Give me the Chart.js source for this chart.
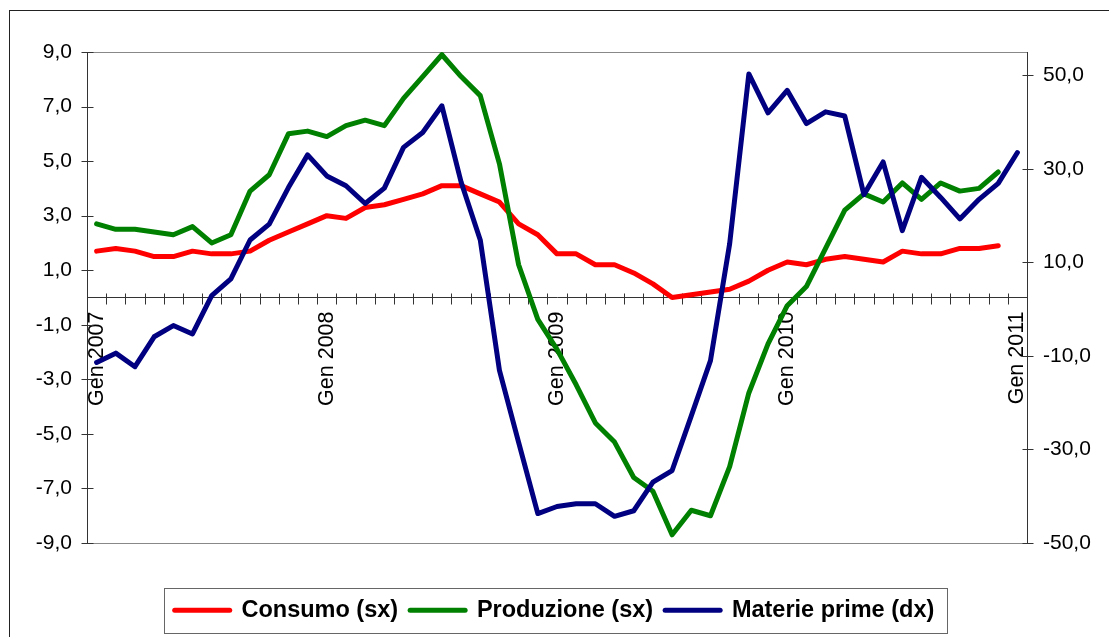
<!DOCTYPE html>
<html>
<head>
<meta charset="utf-8">
<script src="https://cdn.jsdelivr.net/npm/chart.js@4.4.0/dist/chart.umd.min.js"></script>
<style>
  html, body { margin: 0; padding: 0; background: #fff; overflow: hidden; }
  #wrap { position: relative; width: 1109px; height: 637px; }
  #frame { position: absolute; left: 9px; top: 10px; width: 1200px; height: 700px;
           border-left: 1px solid #222; border-top: 1px solid #222; }
  #chart { position: absolute; left: 0; top: 0; }
</style>
</head>
<body>
<div id="wrap">
  <div id="frame"></div>
  <canvas id="chart" width="1109" height="637"></canvas>
</div>
<script>
// months Gen 2007 .. Gen 2011
const MESI = ['Gen', 'Feb', 'Mar', 'Apr', 'Mag', 'Giu', 'Lug', 'Ago', 'Set', 'Ott', 'Nov', 'Dic'];
const categories = [];
for (let anno = 2007; anno <= 2011; anno++) {
  MESI.forEach(m => { if (categories.length < 49) categories.push(m + ' ' + anno); });
}

// left axis (sx)
const consumo = [1.7, 1.8, 1.7, 1.5, 1.5, 1.7, 1.6, 1.6, 1.7, 2.1, 2.4, 2.7,
                 3.0, 2.9, 3.3, 3.4, 3.6, 3.8, 4.1, 4.1, 3.8, 3.5, 2.7, 2.3,
                 1.6, 1.6, 1.2, 1.2, 0.9, 0.5, 0.0, 0.1, 0.2, 0.3, 0.6, 1.0,
                 1.3, 1.2, 1.4, 1.5, 1.4, 1.3, 1.7, 1.6, 1.6, 1.8, 1.8, 1.9, null];
const produzione = [2.7, 2.5, 2.5, 2.4, 2.3, 2.6, 2.0, 2.3, 3.9, 4.5, 6.0, 6.1,
                    5.9, 6.3, 6.5, 6.3, 7.3, 8.1, 8.9, 8.1, 7.4, 4.9, 1.2, -0.8,
                    -1.9, -3.2, -4.6, -5.3, -6.6, -7.1, -8.7, -7.8, -8.0, -6.2, -3.5, -1.7,
                    -0.3, 0.4, 1.8, 3.2, 3.8, 3.5, 4.2, 3.6, 4.2, 3.9, 4.0, 4.6, null];
// right axis (dx)
const materiePrime = [-11.4, -9.4, -12.3, -5.9, -3.5, -5.3, 2.9, 6.5, 14.8, 18.2, 26.0, 33.0,
                      28.5, 26.4, 22.6, 25.9, 34.6, 37.8, 43.5, 27.2, 14.8, -13.1, -28.5, -43.7,
                      -42.2, -41.6, -41.6, -44.3, -43.1, -37.0, -34.5, -22.8, -11.0, 14.0, 50.3, 42.0,
                      46.8, 39.7, 42.2, 41.3, 24.5, 31.5, 16.8, 28.2, 23.9, 19.3, 23.5, 26.9, 33.5];

const rightTicks = [-50, -30, -10, 10, 30, 50];

const FONT = "'Liberation Sans', Arial, sans-serif";
const AXIS_COLOR = '#333';
const fmt = v => Number(v).toFixed(1).replace('.', ',');

// excel style cross tick marks + grey plot area frame
const crossTicks = {
  id: 'crossTicks',
  beforeDatasetsDraw(chart) {
    const {ctx, chartArea: a, scales: {x, y, y1}} = chart;
    ctx.save();
    ctx.lineWidth = 1;
    ctx.strokeStyle = '#888';
    ctx.beginPath();
    ctx.moveTo(a.left, Math.round(a.top) + 0.5);
    ctx.lineTo(a.right, Math.round(a.top) + 0.5);
    ctx.moveTo(a.left, Math.round(a.bottom) + 0.5);
    ctx.lineTo(a.right, Math.round(a.bottom) + 0.5);
    ctx.stroke();

    ctx.strokeStyle = AXIS_COLOR;
    ctx.beginPath();
    const y0 = Math.round(y.getPixelForValue(0)) + 0.5;
    for (let k = 0; k <= categories.length; k++) {
      const px = Math.round(x.getPixelForValue(k - 0.5)) + 0.5;
      ctx.moveTo(px, y0 - 5);
      ctx.lineTo(px, y0 + 6);
    }
    const lx = Math.round(a.left) + 0.5;
    y.ticks.forEach(t => {
      const py = Math.round(y.getPixelForValue(t.value)) + 0.5;
      ctx.moveTo(lx - 6, py);
      ctx.lineTo(lx + 6, py);
    });
    const rx = Math.round(a.right) + 0.5;
    y1.ticks.forEach(t => {
      const py = Math.round(y1.getPixelForValue(t.value)) + 0.5;
      ctx.moveTo(rx - 5, py);
      ctx.lineTo(rx + 6, py);
    });
    ctx.stroke();
    ctx.restore();
  }
};

// box round the legend
const legendFrame = {
  id: 'legendFrame',
  afterDraw(chart) {
    const boxes = chart.legend && chart.legend.legendHitBoxes;
    if (!boxes || !boxes.length) return;
    const {ctx} = chart;
    const left = Math.min(...boxes.map(b => b.left)) - 10.5;
    const right = Math.max(...boxes.map(b => b.left + b.width)) + 13;
    const mid = boxes[0].top + boxes[0].height / 2;
    ctx.save();
    ctx.strokeStyle = '#666';
    ctx.lineWidth = 1;
    ctx.strokeRect(Math.round(left) + 0.5, Math.round(mid - 22.5) + 0.5, Math.round(right - left), 45);
    ctx.restore();
  }
};

const data = {
  labels: categories,
  datasets: [
    {
      label: 'Consumo (sx)',
      data: consumo,
      yAxisID: 'y',
      borderColor: '#FF0000',
      backgroundColor: '#FF0000',
      order: 3
    },
    {
      label: 'Produzione (sx)',
      data: produzione,
      yAxisID: 'y',
      borderColor: '#008000',
      backgroundColor: '#008000',
      order: 2
    },
    {
      label: 'Materie prime (dx)',
      data: materiePrime,
      yAxisID: 'y1',
      borderColor: '#000080',
      backgroundColor: '#000080',
      order: 1
    }
  ]
};

const config = {
  type: 'line',
  data: data,
  options: {
    responsive: false,
    animation: false,
    layout: { padding: { top: 52, right: 0, bottom: 5, left: 0 } },
    elements: {
      line: { borderWidth: 5, tension: 0, borderJoinStyle: 'round', borderCapStyle: 'round' },
      point: { radius: 0, hoverRadius: 0 }
    },
    plugins: {
      tooltip: { enabled: false },
      legend: {
        position: 'bottom',
        title: { display: true, text: ' ', font: { size: 10 }, padding: { top: 31.5, bottom: 0 } },
        labels: {
          usePointStyle: true,
          pointStyle: 'line',
          pointStyleWidth: 55,
          padding: 12,
          color: '#000',
          font: { family: FONT, size: 23.5, weight: 'bold' },
          sort: (a, b) => a.datasetIndex - b.datasetIndex,
          generateLabels(chart) {
            const items = Chart.defaults.plugins.legend.labels.generateLabels(chart);
            items.forEach(item => {
              item.lineWidth = 5;
              item.lineCap = 'round';
            });
            return items;
          }
        }
      }
    },
    scales: {
      x: {
        position: { y: 0 },
        offset: true,
        grid: { display: false, drawTicks: false },
        border: { display: true, color: AXIS_COLOR, width: 1 },
        ticks: {
          autoSkip: false,
          minRotation: 90,
          maxRotation: 90,
          padding: 14,
          color: '#000',
          font: { family: FONT, size: 21.5 },
          callback: function(value) {
            const label = this.getLabelForValue(value);
            return label.startsWith('Gen') ? label : '';
          }
        }
      },
      y: {
        position: 'left',
        min: -9,
        max: 9,
        grid: { display: false, drawTicks: false },
        border: { display: true, color: AXIS_COLOR, width: 1 },
        ticks: {
          stepSize: 2,
          padding: 15,
          color: '#000',
          font: { family: FONT, size: 21 },
          callback: v => fmt(v)
        },
        afterFit(scale) { scale.width = 87; }
      },
      y1: {
        position: 'right',
        min: -50,
        max: 55,
        grid: { display: false, drawTicks: false },
        border: { display: true, color: AXIS_COLOR, width: 1 },
        ticks: {
          padding: 16,
          color: '#000',
          font: { family: FONT, size: 21 },
          callback: v => fmt(v)
        },
        afterBuildTicks(scale) { scale.ticks = rightTicks.map(v => ({ value: v })); },
        afterFit(scale) { scale.width = 82; }
      }
    }
  },
  plugins: [crossTicks, legendFrame]
};

const myChart = new Chart(document.getElementById('chart'), config);
</script>
</body>
</html>
